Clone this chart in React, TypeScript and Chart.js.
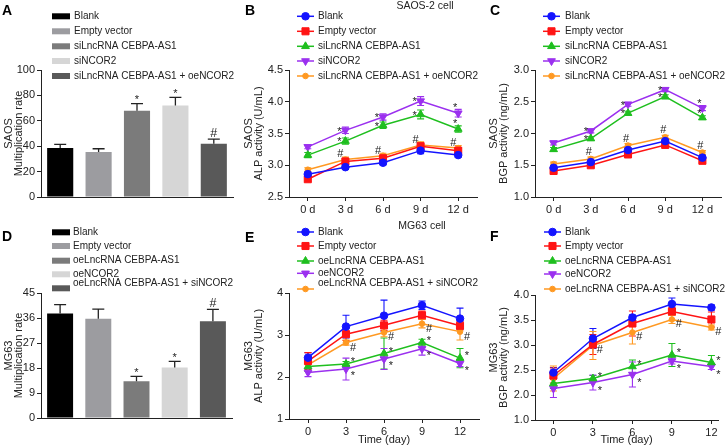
import React, { useEffect, useRef } from 'react';
import { Chart, registerables } from 'chart.js';
import { drawPoint } from 'chart.js/helpers';

Chart.register(...registerables);

const FONT = "'Liberation Sans', Arial, Helvetica, sans-serif";
Chart.defaults.font.family = FONT;
const INK = '#222222';

// ---------------- Data: bar panels ----------------
const groupsSaos = ['Blank', 'Empty vector', 'siLncRNA CEBPA-AS1', 'siNCOR2', 'siLncRNA CEBPA-AS1 + oeNCOR2'];
const groupsMg = ['Blank', 'Empty vector', 'oeLncRNA CEBPA-AS1', 'oeNCOR2', 'oeLncRNA CEBPA-AS1 + siNCOR2'];

const rateSaos = [38.5, 35.5, 68, 72, 42];
const rateSaosErr = [3, 2.5, 5.5, 6.5, 3.5];
const rateSaosSig = ['', '', '*', '*', '#'];

const rateMg = [37.6, 35.7, 13.2, 18.2, 34.8];
const rateMgErr = [3.2, 3.5, 1.8, 2.2, 4.3];
const rateMgSig = ['', '', '*', '*', '#'];

const barColors = ['#000000', '#9c9ca0', '#7b7b7b', '#d6d6d6', '#595959'];

// ---------------- Data: line panels ----------------
const dayLabels = ['0 d', '3 d', '6 d', '9 d', '12 d'];
const dayNumLabels = ['0', '3', '6', '9', '12'];
const daysMg = [0, 3, 6, 9, 12];

const sigNone = ['', '', '', '', ''];
const sigStar = ['', '*', '*', '*', '*'];
const sigHash = ['', '#', '#', '#', '#'];

// B: SAOS ALP
const alpSaosBlank = [2.86, 2.97, 3.04, 3.23, 3.16];
const alpSaosEmpty = [2.78, 3.06, 3.11, 3.30, 3.23];
const alpSaosSiLnc = [3.16, 3.38, 3.63, 3.80, 3.57];
const alpSaosSiNcor = [3.29, 3.55, 3.76, 4.01, 3.82];
const alpSaosCombo = [2.93, 3.09, 3.15, 3.32, 3.27];
const alpSaosBlankErr = [0.03, 0.03, 0.03, 0.05, 0.03];
const alpSaosEmptyErr = [0.03, 0.04, 0.04, 0.05, 0.04];
const alpSaosSiLncErr = [0.04, 0.05, 0.05, 0.07, 0.05];
const alpSaosSiNcorErr = [0.03, 0.05, 0.05, 0.07, 0.06];
const alpSaosComboErr = [0.03, 0.04, 0.04, 0.05, 0.04];

// C: SAOS BGP
const bgpSaosBlank = [1.46, 1.55, 1.74, 1.88, 1.62];
const bgpSaosEmpty = [1.41, 1.50, 1.67, 1.82, 1.57];
const bgpSaosSiLnc = [1.75, 1.92, 2.32, 2.58, 2.25];
const bgpSaosSiNcor = [1.85, 2.04, 2.46, 2.69, 2.40];
const bgpSaosCombo = [1.52, 1.60, 1.81, 1.94, 1.70];
const bgpSaosBlankErr = [0.03, 0.03, 0.03, 0.03, 0.03];
const bgpSaosEmptyErr = [0.03, 0.03, 0.03, 0.03, 0.03];
const bgpSaosSiLncErr = [0.03, 0.03, 0.03, 0.03, 0.03];
const bgpSaosSiNcorErr = [0.03, 0.03, 0.03, 0.03, 0.04];
const bgpSaosComboErr = [0.03, 0.03, 0.03, 0.03, 0.03];

// E: MG63 ALP
const alpMgBlank = [2.46, 3.20, 3.46, 3.71, 3.39];
const alpMgEmpty = [2.38, 3.02, 3.23, 3.47, 3.22];
const alpMgOeLnc = [2.25, 2.31, 2.56, 2.82, 2.45];
const alpMgOeNcor = [2.11, 2.19, 2.43, 2.67, 2.32];
const alpMgCombo = [2.29, 2.82, 3.06, 3.27, 3.08];
const alpMgBlankErr = [0.12, 0.27, 0.37, 0.1, 0.25];
const alpMgEmptyErr = [0.2, 0.15, 0.12, 0.1, 0.1];
const alpMgOeLncErr = [0.12, 0.06, 0.37, 0.08, 0.23];
const alpMgOeNcorErr = [0.1, 0.26, 0.25, 0.15, 0.07];
const alpMgComboErr = [0.15, 0.06, 0.1, 0.1, 0.2];

// F: MG63 BGP
const bgpMgBlank = [2.45, 3.13, 3.55, 3.82, 3.75];
const bgpMgEmpty = [2.39, 3.01, 3.43, 3.67, 3.51];
const bgpMgOeLnc = [2.23, 2.33, 2.57, 2.80, 2.65];
const bgpMgOeNcor = [2.13, 2.25, 2.41, 2.68, 2.57];
const bgpMgCombo = [2.33, 2.99, 3.25, 3.51, 3.35];
const bgpMgBlankErr = [0.1, 0.2, 0.05, 0.12, 0.05];
const bgpMgEmptyErr = [0.15, 0.2, 0.25, 0.08, 0.15];
const bgpMgOeLncErr = [0.1, 0.06, 0.13, 0.23, 0.14];
const bgpMgOeNcorErr = [0.18, 0.15, 0.25, 0.06, 0.06];
const bgpMgComboErr = [0.25, 0.28, 0.23, 0.08, 0.05];

// ---------------- Styles ----------------
const lineStyles = [
  { color: '#1414ff', pointStyle: 'circle', radius: 3.8, rotation: 0 },
  { color: '#ff1414', pointStyle: 'rect', radius: 5, rotation: 0 },
  { color: '#1fbf1f', pointStyle: 'triangle', radius: 4.5, rotation: 0 },
  { color: '#9b30ef', pointStyle: 'triangle', radius: 4.5, rotation: 180 },
  { color: '#ff9922', pointStyle: 'circle', radius: 2.8, rotation: 0 },
];

type Geo = { left: number; top: number; width: number; height: number; axisX: number; plotTop: number; plotBottom: number; plotRight: number };

const geoA: Geo = { left: 0, top: 0, width: 240, height: 220, axisX: 41, plotTop: 70, plotBottom: 197, plotRight: 233 };
const geoB: Geo = { left: 240, top: 0, width: 245, height: 220, axisX: 289, plotTop: 70, plotBottom: 197, plotRight: 477 };
const geoC: Geo = { left: 485, top: 0, width: 242, height: 220, axisX: 535, plotTop: 70, plotBottom: 197, plotRight: 725 };
const geoD: Geo = { left: 0, top: 220, width: 240, height: 228, axisX: 41, plotTop: 293, plotBottom: 418, plotRight: 232 };
const geoE: Geo = { left: 240, top: 220, width: 245, height: 228, axisX: 289, plotTop: 293, plotBottom: 419, plotRight: 488 };
const geoF: Geo = { left: 485, top: 220, width: 242, height: 228, axisX: 535, plotTop: 295, plotBottom: 420, plotRight: 718 };

const rowsTop = [16.3, 31.3, 46.3, 61, 76];

type Spec = {
  kind: 'bar' | 'line';
  letter: string; letterX: number; letterY: number;
  title?: string; titleX?: number; titleY?: number;
  legendX0: number; legendX1: number; textX: number;
  rows: number[]; textRows: number[];
  markOffset?: (di: number, i: number, m: string) => [number, number];
};

function drawMark(ctx: CanvasRenderingContext2D, txt: string, cx: number, cy: number, size: number) {
  ctx.save();
  ctx.font = `${size}px ${FONT}`;
  ctx.fillStyle = INK;
  ctx.textAlign = 'center';
  ctx.textBaseline = 'alphabetic';
  const k = txt === '*' ? 0.57 : 0.36;
  ctx.fillText(txt, cx, cy + k * size);
  ctx.restore();
}

function valOf(raw: any) {
  return typeof raw === 'number' ? raw : raw.y;
}

function decorPlugin(spec: Spec) {
  const drawErr = (chart: any) => {
    const ctx = chart.ctx;
    const ys = chart.scales.y;
    ctx.save();
    chart.data.datasets.forEach((ds: any, di: number) => {
      const meta = chart.getDatasetMeta(di);
      meta.data.forEach((el: any, i: number) => {
        const v = valOf(ds.data[i]);
        const e = ds.errors[i];
        const x = el.x;
        const yTop = ys.getPixelForValue(v + e);
        const yBot = ys.getPixelForValue(spec.kind === 'bar' ? v : v - e);
        const cap = spec.kind === 'bar' ? 6 : 3.5;
        ctx.strokeStyle = spec.kind === 'bar' ? INK : ds.borderColor;
        ctx.lineWidth = spec.kind === 'bar' ? 1.3 : 1.1;
        ctx.beginPath();
        ctx.moveTo(x, yBot);
        ctx.lineTo(x, yTop);
        ctx.moveTo(x - cap, yTop);
        ctx.lineTo(x + cap, yTop);
        if (spec.kind === 'line') {
          ctx.moveTo(x - cap, yBot);
          ctx.lineTo(x + cap, yBot);
        }
        ctx.stroke();
      });
    });
    ctx.restore();
  };
  return {
    id: 'decor' + spec.letter,
    beforeDatasetsDraw(chart: any) {
      if (spec.kind === 'line') drawErr(chart);
    },
    afterDatasetsDraw(chart: any) {
      if (spec.kind === 'bar') drawErr(chart);
    },
    afterDraw(chart: any) {
      const ctx: CanvasRenderingContext2D = chart.ctx;
      const ys = chart.scales.y;
      ctx.save();
      // panel letter
      ctx.font = `bold 14px ${FONT}`;
      ctx.fillStyle = '#000';
      ctx.textAlign = 'left';
      ctx.textBaseline = 'alphabetic';
      ctx.fillText(spec.letter, spec.letterX, spec.letterY);
      // title
      if (spec.title) {
        ctx.font = `10.5px ${FONT}`;
        ctx.fillStyle = INK;
        ctx.textAlign = 'center';
        ctx.textBaseline = 'middle';
        ctx.fillText(spec.title, spec.titleX!, spec.titleY!);
      }
      // legend
      ctx.font = `10px ${FONT}`;
      ctx.textAlign = 'left';
      ctx.textBaseline = 'middle';
      if (spec.kind === 'bar') {
        const labels = chart.data.labels;
        const colors = chart.data.datasets[0].backgroundColor;
        labels.forEach((lab: string, i: number) => {
          ctx.fillStyle = colors[i];
          ctx.fillRect(spec.legendX0, spec.rows[i] - 3, spec.legendX1 - spec.legendX0, 6);
          ctx.fillStyle = INK;
          ctx.fillText(lab, spec.textX, spec.textRows[i]);
        });
      } else {
        chart.data.datasets.forEach((ds: any, i: number) => {
          const y = spec.rows[i];
          ctx.strokeStyle = ds.borderColor;
          ctx.fillStyle = ds.borderColor;
          ctx.lineWidth = 1.5;
          ctx.beginPath();
          ctx.moveTo(spec.legendX0, y);
          ctx.lineTo(spec.legendX1, y);
          ctx.stroke();
          ctx.lineWidth = 1;
          drawPoint(ctx, { pointStyle: ds.pointStyle, rotation: ds.pointRotation, radius: ds.pointRadius, borderWidth: 1 } as any, (spec.legendX0 + spec.legendX1) / 2, y);
          ctx.fillStyle = INK;
          ctx.fillText(ds.label, spec.textX, spec.textRows[i]);
        });
      }
      ctx.restore();
      // significance marks
      chart.data.datasets.forEach((ds: any, di: number) => {
        const meta = chart.getDatasetMeta(di);
        (ds.marks || []).forEach((m: string, i: number) => {
          if (!m) return;
          const el = meta.data[i];
          const v = valOf(ds.data[i]);
          if (spec.kind === 'bar') {
            const cy = ys.getPixelForValue(v + ds.errors[i]) - 7;
            drawMark(ctx, m, el.x, cy, m === '#' ? 12.5 : 11);
          } else {
            const [dx, dy] = spec.markOffset!(di, i, m);
            drawMark(ctx, m, el.x + dx, el.y + dy, 11);
          }
        });
      });
    },
  };
}

function layoutOf(g: Geo) {
  return { padding: { top: g.plotTop - g.top, right: g.left + g.width - g.plotRight, bottom: 0, left: 0 } };
}

function yScale(g: Geo, min: number, max: number, step: number, title: string[], fmt?: (v: number) => string) {
  const ticks: any = { stepSize: step, color: INK, font: { size: 11 }, padding: 2 };
  if (fmt) ticks.callback = (v: any) => fmt(Number(v));
  return {
    type: 'linear',
    min,
    max,
    ticks,
    grid: { drawOnChartArea: false, drawTicks: true, tickLength: 4, color: INK, lineWidth: 1 },
    border: { display: true, color: INK, width: 1 },
    title: { display: true, text: title, color: INK, font: { size: 11, lineHeight: 0.9 }, padding: { top: 4, bottom: 0 } },
    afterFit: (s: any) => { s.width = g.axisX - g.left; },
  };
}

function xCategory(g: Geo, xTitle?: string) {
  return {
    type: 'category',
    offset: true,
    ticks: { color: INK, font: { size: 11 }, padding: 2, maxRotation: 0, autoSkip: false },
    grid: { drawOnChartArea: false, drawTicks: true, tickLength: 4, color: INK, offset: false },
    border: { display: true, color: INK, width: 1 },
    title: xTitle ? { display: true, text: xTitle, color: INK, font: { size: 11 }, padding: { top: 0, bottom: 1 } } : { display: false },
    afterFit: (s: any) => { s.height = g.top + g.height - g.plotBottom; },
  };
}

function barConfig(g: Geo, labels: string[], values: number[], errors: number[], marks: string[], yMax: number, step: number, yTitle: string[], spec: Spec) {
  return {
    type: 'bar',
    data: {
      labels,
      datasets: [{ data: values, errors, marks, backgroundColor: barColors, borderWidth: 0, barPercentage: 0.68, categoryPercentage: 1 }],
    },
    options: {
      responsive: false,
      animation: false,
      devicePixelRatio: 1,
      layout: layoutOf(g),
      plugins: { legend: { display: false }, tooltip: { enabled: false } },
      scales: {
        x: {
          type: 'category',
          offset: true,
          ticks: { display: false },
          grid: { display: false, drawTicks: false },
          border: { display: true, color: INK, width: 1 },
          afterFit: (s: any) => { s.height = g.top + g.height - g.plotBottom; },
        },
        y: yScale(g, 0, yMax, step, yTitle),
      },
    },
    plugins: [decorPlugin(spec)],
  };
}

function lineDatasets(labels: string[], values: number[][], errors: number[][], marks: string[][], xs?: number[]) {
  return labels.map((label, i) => {
    const st = lineStyles[i];
    return {
      label,
      data: xs ? values[i].map((v, j) => ({ x: xs[j], y: v })) : values[i],
      errors: errors[i],
      marks: marks[i],
      borderColor: st.color,
      backgroundColor: st.color,
      borderWidth: 1.5,
      pointStyle: st.pointStyle,
      pointRadius: st.radius,
      pointRotation: st.rotation,
      pointBorderWidth: 1,
      pointBackgroundColor: st.color,
      pointBorderColor: st.color,
      tension: 0,
      fill: false,
    };
  });
}

function lineConfig(g: Geo, datasets: any[], xScaleOpt: any, yOpt: any, spec: Spec, labels?: string[]) {
  return {
    type: 'line',
    data: labels ? { labels, datasets } : { datasets },
    options: {
      responsive: false,
      animation: false,
      devicePixelRatio: 1,
      layout: layoutOf(g),
      plugins: { legend: { display: false }, tooltip: { enabled: false } },
      scales: { x: xScaleOpt, y: yOpt },
    },
    plugins: [decorPlugin(spec)],
  };
}

const fmt1 = (v: number) => v.toFixed(1);

const offB = (di: number, i: number, m: string): [number, number] =>
  m === '#' ? [-5, -6] : i === 4 ? [-3, -8] : [-6, -2];
const offC = (di: number, i: number, m: string): [number, number] =>
  m === '#' ? [-2, -8] : i === 4 ? [-3, -7] : [-5, -2];
const offE = (di: number, i: number, m: string): [number, number] =>
  m === '#' ? [7, 4] : di === 2 ? [7, -5] : [7, 4];
const offF = (di: number, i: number, m: string): [number, number] =>
  m === '#' ? [7, 4] : di === 2 ? [7, -5] : [7, 5];

function buildA() {
  return barConfig(geoA, groupsSaos, rateSaos, rateSaosErr, rateSaosSig, 100, 20, ['SAOS', 'Multiplication rate'], {
    kind: 'bar', letter: 'A', letterX: 2, letterY: 15,
    legendX0: 52, legendX1: 70, textX: 74, rows: rowsTop, textRows: rowsTop,
  });
}

function buildD() {
  return barConfig(geoD, groupsMg, rateMg, rateMgErr, rateMgSig, 45, 9, ['MG63', 'Multiplication rate'], {
    kind: 'bar', letter: 'D', letterX: 2, letterY: 20.7,
    legendX0: 52, legendX1: 70, textX: 73,
    rows: [12.3, 26, 40.7, 54.3, 68.3], textRows: [12.3, 26, 40.7, 54.3, 63.3],
  });
}

function buildB() {
  const ds = lineDatasets(groupsSaos,
    [alpSaosBlank, alpSaosEmpty, alpSaosSiLnc, alpSaosSiNcor, alpSaosCombo],
    [alpSaosBlankErr, alpSaosEmptyErr, alpSaosSiLncErr, alpSaosSiNcorErr, alpSaosComboErr],
    [sigNone, sigNone, sigStar, sigStar, sigHash]);
  return lineConfig(geoB, ds, xCategory(geoB), yScale(geoB, 2.5, 4.5, 0.5, ['SAOS', 'ALP activity (U/mL)'], fmt1), {
    kind: 'line', letter: 'B', letterX: 5, letterY: 15, title: 'SAOS-2 cell', titleX: 185, titleY: 6.5,
    legendX0: 57, legendX1: 74, textX: 78, rows: rowsTop, textRows: rowsTop, markOffset: offB,
  }, dayLabels);
}

function buildC() {
  const ds = lineDatasets(groupsSaos,
    [bgpSaosBlank, bgpSaosEmpty, bgpSaosSiLnc, bgpSaosSiNcor, bgpSaosCombo],
    [bgpSaosBlankErr, bgpSaosEmptyErr, bgpSaosSiLncErr, bgpSaosSiNcorErr, bgpSaosComboErr],
    [sigNone, sigNone, sigStar, sigStar, sigHash]);
  return lineConfig(geoC, ds, xCategory(geoC), yScale(geoC, 1.0, 3.0, 0.5, ['SAOS', 'BGP activity (ng/mL)'], fmt1), {
    kind: 'line', letter: 'C', letterX: 5, letterY: 15,
    legendX0: 58, legendX1: 75, textX: 80, rows: rowsTop, textRows: rowsTop, markOffset: offC,
  }, dayLabels);
}

function buildE() {
  const ds = lineDatasets(groupsMg,
    [alpMgBlank, alpMgEmpty, alpMgOeLnc, alpMgOeNcor, alpMgCombo],
    [alpMgBlankErr, alpMgEmptyErr, alpMgOeLncErr, alpMgOeNcorErr, alpMgComboErr],
    [sigNone, sigNone, sigStar, sigStar, sigHash]);
  return lineConfig(geoE, ds, xCategory(geoE, 'Time (day)'), yScale(geoE, 1, 4, 1, ['MG63', 'ALP activity (U/mL)'], (v) => String(Math.round(v))), {
    kind: 'line', letter: 'E', letterX: 5, letterY: 21.7, title: 'MG63 cell', titleX: 182, titleY: 6.5,
    legendX0: 57, legendX1: 74, textX: 78,
    rows: [12, 26, 41, 53.3, 69], textRows: [12, 26, 41, 53.3, 63], markOffset: offE,
  }, dayNumLabels);
}

function buildF() {
  const ds = lineDatasets(groupsMg,
    [bgpMgBlank, bgpMgEmpty, bgpMgOeLnc, bgpMgOeNcor, bgpMgCombo],
    [bgpMgBlankErr, bgpMgEmptyErr, bgpMgOeLncErr, bgpMgOeNcorErr, bgpMgComboErr],
    [sigNone, sigNone, sigStar, sigStar, sigHash], daysMg);
  const g = geoF;
  const x = {
    type: 'linear',
    min: -1.4,
    max: 12.5,
    afterBuildTicks: (s: any) => { s.ticks = daysMg.map((v) => ({ value: v })); },
    ticks: { color: INK, font: { size: 11 }, padding: 2, maxRotation: 0, autoSkip: false, callback: (v: any) => String(v) },
    grid: { drawOnChartArea: false, drawTicks: true, tickLength: 4, color: INK },
    border: { display: true, color: INK, width: 1 },
    title: { display: true, text: 'Time (day)', color: INK, font: { size: 11 }, padding: { top: 0, bottom: 1 } },
    afterFit: (s: any) => { s.height = g.top + g.height - g.plotBottom; },
  };
  const y = yScale(g, 1.5, 4.0, 0.5, ['MG63', 'BGP activity (ng/mL)'], (v) => (Math.abs(v - 1.5) < 1e-6 ? '1.0' : v.toFixed(1)));
  return lineConfig(g, ds, x, y, {
    kind: 'line', letter: 'F', letterX: 5, letterY: 20.7,
    legendX0: 59, legendX1: 76, textX: 80,
    rows: [12, 26, 41, 54, 69], textRows: [12, 26, 41, 54, 69], markOffset: offF,
  });
}

function ChartPanel({ geo, build }: { geo: Geo; build: () => any }) {
  const ref = useRef<HTMLCanvasElement>(null);
  useEffect(() => {
    const chart = new Chart(ref.current as HTMLCanvasElement, build());
    return () => chart.destroy();
  }, []);
  return (
    <div style={{ position: 'absolute', left: geo.left, top: geo.top, width: geo.width, height: geo.height }}>
      <canvas ref={ref} width={geo.width} height={geo.height} style={{ display: 'block', width: geo.width, height: geo.height }} />
    </div>
  );
}

export default function App() {
  return (
    <div style={{ position: 'absolute', left: 0, top: 0, width: 727, height: 448, background: '#ffffff', overflow: 'hidden' }}>
      <ChartPanel geo={geoA} build={buildA} />
      <ChartPanel geo={geoB} build={buildB} />
      <ChartPanel geo={geoC} build={buildC} />
      <ChartPanel geo={geoD} build={buildD} />
      <ChartPanel geo={geoE} build={buildE} />
      <ChartPanel geo={geoF} build={buildF} />
    </div>
  );
}
